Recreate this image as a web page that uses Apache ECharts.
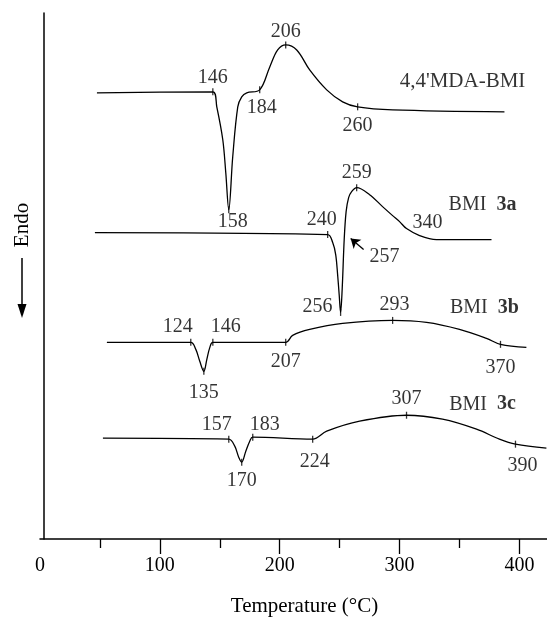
<!DOCTYPE html>
<html>
<head>
<meta charset="utf-8">
<script src="https://cdn.jsdelivr.net/npm/echarts@6/dist/echarts.min.js"></script>
<style>
  html, body { margin: 0; padding: 0; background: #fff; }
  #chart { width: 547px; height: 622px; }
</style>
</head>
<body>
<div id="chart"></div>
<script>
// x ticks
var xTickLabels = [0, 100, 200, 300, 400];
var xMajorTicks = [100, 200, 300, 400];

// DSC traces, temperature (°C) and heat flow (arbitrary units, stacked offsets)
var mdaT = [47.5, 144.2, 147.5, 152.5, 155, 157.5, 160.8, 165, 168.3, 172.5, 183.3, 191.7, 198.3, 205, 214.2, 225, 239.2, 252.5, 265, 294.2, 387.5];
var mdaY = [447, 448, 433, 400, 367, 330, 383, 433, 443, 447, 450, 473, 490, 495, 490, 470, 450, 438, 433, 430, 428];

var bmi3aT = [45.8, 240, 244.2, 246.7, 248.3, 249.6, 250.8, 252.1, 253.8, 255.4, 257.5, 260, 264.2, 275, 285.8, 294.2, 300, 305.8, 316.7, 330.8, 376.7];
var bmi3aY = [307, 305, 297, 285, 265, 245, 227, 250, 300, 328, 342, 348, 352, 345, 333, 324, 318, 311, 304, 300, 300];

var bmi3bT = [55.8, 125.8, 130, 133.3, 136.7, 139.2, 141.7, 144.2, 205, 210.8, 225, 252.5, 294.2, 322.5, 350, 372.5, 384.2, 405.8];
var bmi3bY = [197, 197, 190, 178, 168, 180, 192, 197, 197, 204, 210, 216, 219, 217, 210, 201, 195, 192];

var bmi3cT = [52.5, 157.5, 162.5, 165.8, 168.3, 171.7, 175, 177.5, 227.5, 239.2, 266.7, 305.8, 335.8, 364.2, 383.3, 396.7, 422.5];
var bmi3cY = [101, 100, 93, 82, 77, 88, 98, 102, 100, 108, 118, 124, 120, 110, 100, 95, 91];

// annotated points on the traces: [T, Y, text]
var mdaMarks = [[144.2, 448, '146'], [157.5, 330, '158'], [183.3, 450, '184'], [205, 495, '206'], [265, 433, '260']];
var bmi3aMarks = [[240, 305, '240'], [250.8, 227, '256'], [264.2, 352, '259']];
var bmi3bMarks = [[125.8, 197, '124'], [136.7, 168, '135'], [144.2, 197, '146'], [205, 197, '207'], [294.2, 219, '293'], [384.2, 195, '370']];
var bmi3cMarks = [[157.5, 100, '157'], [168.3, 77, '170'], [177.5, 102, '183'], [227.5, 100, '224'], [305.8, 124, '307'], [396.7, 95, '390']];

// free labels: [T, Y, text]
var freeLabels = [[323.3, 317, '340'], [287.5, 283, '257']];
var arrow257 = [[270, 290], [259.2, 301]];

// trace names: [T, Y, name, sample]
var traceNames = [[352.5, 458, "4,4'MDA-BMI", ''], [369.2, 335, 'BMI', '3a'], [370.8, 232, 'BMI', '3b'], [369.2, 135, 'BMI', '3c']];

// label offsets (px) for the marks above, same order
var mdaOff = [[0, -14], [4, 12], [2, 18], [0, -13], [0, 19]];
var bmi3aOff = [[-6, -15], [-23, -6], [0, -15]];
var bmi3bOff = [[-13, -16], [0, 21], [13, -16], [0, 19], [2, -16], [0, 23]];
var bmi3cOff = [[-12, -14], [0, 19], [12, -12], [2, 23], [0, -16], [7, 22]];

var FONT = 'Liberation Serif';
var INK = '#000';

function zip(xs, ys) {
    return xs.map(function (x, i) { return [x, ys[i]]; });
}

function traceSeries(name, xs, ys) {
    return {
        name: name,
        type: 'line',
        data: zip(xs, ys),
        showSymbol: false,
        symbol: 'none',
        smooth: 0.35,
        lineStyle: { color: INK, width: 1.3 },
        silent: true
    };
}

function markSeries(marks, offs) {
    return {
        type: 'scatter',
        symbol: 'rect',
        symbolSize: [1.3, 7],
        itemStyle: { color: INK },
        silent: true,
        data: marks.map(function (m, i) {
            return {
                value: [m[0], m[1]],
                label: { offset: offs[i] }
            };
        }),
        label: {
            show: true,
            position: 'inside',
            align: 'center',
            verticalAlign: 'middle',
            fontFamily: FONT,
            fontSize: 20,
            color: INK,
            formatter: function (p) { return marks[p.dataIndex][2]; }
        }
    };
}

// text-only scatter (invisible 1px symbol carries the label)
function textSeries(items, fmt, rich) {
    return {
        type: 'scatter',
        symbol: 'rect',
        symbolSize: 1,
        itemStyle: { color: 'rgba(0,0,0,0)' },
        silent: true,
        data: items.map(function (l) { return [l[0], l[1]]; }),
        label: {
            show: true,
            position: 'inside',
            align: 'center',
            verticalAlign: 'middle',
            fontFamily: FONT,
            fontSize: 20,
            color: INK,
            formatter: fmt,
            rich: rich || {}
        }
    };
}

var chart = echarts.init(document.getElementById('chart'));

var series = [
    traceSeries('mda', mdaT, mdaY),
    traceSeries('3a', bmi3aT, bmi3aY),
    traceSeries('3b', bmi3bT, bmi3bY),
    traceSeries('3c', bmi3cT, bmi3cY),
    markSeries(mdaMarks, mdaOff),
    markSeries(bmi3aMarks, bmi3aOff),
    markSeries(bmi3bMarks, bmi3bOff),
    markSeries(bmi3cMarks, bmi3cOff),
    textSeries(freeLabels, function (p) { return freeLabels[p.dataIndex][2]; }),
    textSeries(traceNames, function (p) {
        var t = traceNames[p.dataIndex];
        return t[3] ? '{n|' + t[2] + '}  {b|' + t[3] + '}' : '{w|' + t[2] + '}';
    }, {
        n: { fontFamily: FONT, fontSize: 20, color: INK },
        w: { fontFamily: FONT, fontSize: 21, color: INK },
        b: { fontFamily: FONT, fontSize: 20, color: INK, fontWeight: 'bold' }
    }),
    {
        type: 'lines',
        coordinateSystem: 'cartesian2d',
        silent: true,
        symbol: ['none', 'arrow'],
        symbolSize: 9,
        lineStyle: { color: INK, width: 1.3, opacity: 1 },
        data: [{ coords: arrow257 }]
    }
];

chart.setOption({
    animation: false,
    backgroundColor: '#fff',
    grid: { left: 40, right: 0, top: 13, bottom: 82 },
    xAxis: {
        type: 'value',
        min: 0,
        max: 423,
        interval: 100,
        axisLine: { show: true, lineStyle: { color: INK, width: 1.5 } },
        axisTick: { show: true, length: 15, customValues: xMajorTicks, lineStyle: { color: INK, width: 1.3 } },
        minorTick: { show: true, splitNumber: 2, length: 9, lineStyle: { color: INK, width: 1.3 } },
        splitLine: { show: false },
        axisLabel: {
            customValues: xTickLabels,
            margin: 17,
            fontFamily: FONT,
            fontSize: 20,
            color: INK
        },
        name: 'Temperature (°C)',
        nameLocation: 'middle',
        nameGap: 57,
        nameTextStyle: { fontFamily: FONT, fontSize: 21, color: INK, padding: [0, 0, 0, 22] }
    },
    yAxis: {
        type: 'value',
        min: 0,
        max: 527,
        offset: -4,
        axisLine: { show: true, lineStyle: { color: INK, width: 1.5 } },
        axisTick: { show: false },
        axisLabel: { show: false },
        splitLine: { show: false }
    },
    graphic: [
        {
            type: 'text',
            x: 22,
            y: 225,
            rotation: Math.PI / 2,
            style: {
                text: 'Endo',
                fontFamily: FONT,
                fontSize: 21,
                fill: INK,
                align: 'center',
                verticalAlign: 'middle'
            }
        },
        {
            type: 'line',
            shape: { x1: 22, y1: 258, x2: 22, y2: 308 },
            style: { stroke: INK, lineWidth: 1.5 }
        },
        {
            type: 'polygon',
            shape: { points: [[17.5, 304], [26.5, 304], [22, 318]] },
            style: { fill: INK }
        }
    ],
    series: series
});
</script>
</body>
</html>
